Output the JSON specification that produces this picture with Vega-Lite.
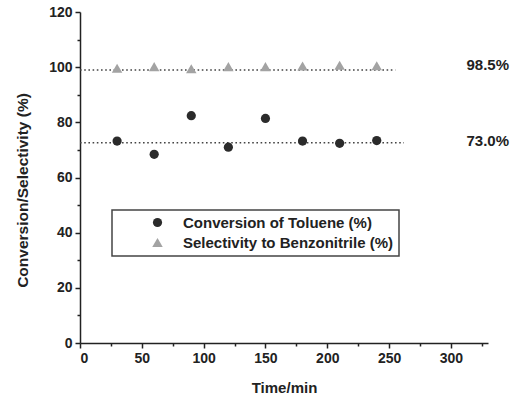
{
  "$schema": "https://vega.github.io/schema/vega-lite/v6.json",
  "width": 408,
  "height": 331,
  "autosize": "none",
  "padding": {"left": 80, "top": 12, "right": 32, "bottom": 67},
  "background": "white",
  "config": {
    "font": "Liberation Sans",
    "view": {"stroke": null},
    "axis": {
      "domainColor": "#222",
      "domainWidth": 1.5,
      "tickColor": "#222",
      "tickWidth": 1.5,
      "labelFont": "Liberation Sans",
      "labelFontWeight": "bold",
      "labelFontSize": 14,
      "labelColor": "#222",
      "titleFont": "Liberation Sans",
      "titleFontWeight": "bold",
      "titleFontSize": 15,
      "titleColor": "#222",
      "grid": false
    },
    "legend": {
      "orient": "none",
      "legendX": 32,
      "legendY": 198,
      "fillColor": "white",
      "strokeColor": "#444",
      "strokeWidth": 1.5,
      "padding": 5,
      "symbolOffset": 33,
      "labelOffset": 18,
      "rowPadding": 4,
      "labelFont": "Liberation Sans",
      "labelFontWeight": "bold",
      "labelFontSize": 15,
      "labelColor": "#222",
      "labelLimit": 400,
      "symbolStrokeWidth": 0
    }
  },
  "resolve": {"axis": {"x": "independent", "y": "independent"}},
  "layer": [
    {
      "data": {"values": [
        {"x0": 0, "x1": 255, "y": 99.0},
        {"x0": 0, "x1": 262, "y": 72.6}
      ]},
      "mark": {"type": "rule", "color": "#444", "strokeWidth": 1.6, "strokeDash": [1.6, 2.6]},
      "encoding": {
        "x": {"field": "x0", "type": "quantitative", "scale": {"domain": [0, 330], "nice": false},
              "axis": {"orient": "bottom", "values": [25, 75, 125, 175, 225, 275, 325], "tickSize": 3, "labels": false, "domain": false, "title": null}},
        "x2": {"field": "x1"},
        "y": {"field": "y", "type": "quantitative", "scale": {"domain": [0, 120], "nice": false},
              "axis": {"orient": "left", "values": [10, 30, 50, 70, 90, 110], "tickSize": 3, "labels": false, "domain": false, "title": null}}
      }
    },
    {
      "data": {"values": [
        {"time": 30, "value": 73.2, "series": "Conversion of Toluene (%)"},
        {"time": 60, "value": 68.4, "series": "Conversion of Toluene (%)"},
        {"time": 90, "value": 82.4, "series": "Conversion of Toluene (%)"},
        {"time": 120, "value": 71.0, "series": "Conversion of Toluene (%)"},
        {"time": 150, "value": 81.4, "series": "Conversion of Toluene (%)"},
        {"time": 180, "value": 73.2, "series": "Conversion of Toluene (%)"},
        {"time": 210, "value": 72.4, "series": "Conversion of Toluene (%)"},
        {"time": 240, "value": 73.4, "series": "Conversion of Toluene (%)"},
        {"time": 30, "value": 99.6, "series": "Selectivity to Benzonitrile (%)"},
        {"time": 60, "value": 100.2, "series": "Selectivity to Benzonitrile (%)"},
        {"time": 90, "value": 99.4, "series": "Selectivity to Benzonitrile (%)"},
        {"time": 120, "value": 100.2, "series": "Selectivity to Benzonitrile (%)"},
        {"time": 150, "value": 100.2, "series": "Selectivity to Benzonitrile (%)"},
        {"time": 180, "value": 100.4, "series": "Selectivity to Benzonitrile (%)"},
        {"time": 210, "value": 100.7, "series": "Selectivity to Benzonitrile (%)"},
        {"time": 240, "value": 100.5, "series": "Selectivity to Benzonitrile (%)"}
      ]},
      "mark": {"type": "point", "filled": true, "opacity": 1},
      "encoding": {
        "x": {"field": "time", "type": "quantitative",
              "axis": {"orient": "bottom", "values": [0, 50, 100, 150, 200, 250, 300], "tickSize": 5, "labelPadding": 3, "title": "Time/min", "titlePadding": 15}},
        "y": {"field": "value", "type": "quantitative",
              "axis": {"orient": "left", "values": [0, 20, 40, 60, 80, 100, 120], "tickSize": 5, "labelPadding": 3, "title": "Conversion/Selectivity (%)", "titleX": -58, "titleY": 178, "titleAngle": -90, "titleBaseline": "middle", "titleFontSize": 15.5}},
        "color": {"field": "series", "type": "nominal",
                  "scale": {"domain": ["Conversion of Toluene (%)", "Selectivity to Benzonitrile (%)"], "range": ["#2b2b2b", "#a3a3a3"]},
                  "legend": {"title": null}},
        "shape": {"field": "series", "type": "nominal",
                  "scale": {"domain": ["Conversion of Toluene (%)", "Selectivity to Benzonitrile (%)"], "range": ["circle", "triangle-up"]},
                  "legend": {"title": null}},
        "size": {"field": "series", "type": "nominal",
                 "scale": {"domain": ["Conversion of Toluene (%)", "Selectivity to Benzonitrile (%)"], "range": [85, 110]},
                 "legend": null}
      }
    },
    {
      "data": {"values": [
        {"x": 347, "y": 100.7, "label": "98.5%"},
        {"x": 347, "y": 73.2, "label": "73.0%"}
      ]},
      "mark": {"type": "text", "align": "right", "baseline": "middle", "fontWeight": "bold", "fontSize": 15, "color": "#222", "font": "Liberation Sans"},
      "encoding": {
        "x": {"field": "x", "type": "quantitative", "axis": null},
        "y": {"field": "y", "type": "quantitative", "axis": null},
        "text": {"field": "label"}
      }
    }
  ]
}
